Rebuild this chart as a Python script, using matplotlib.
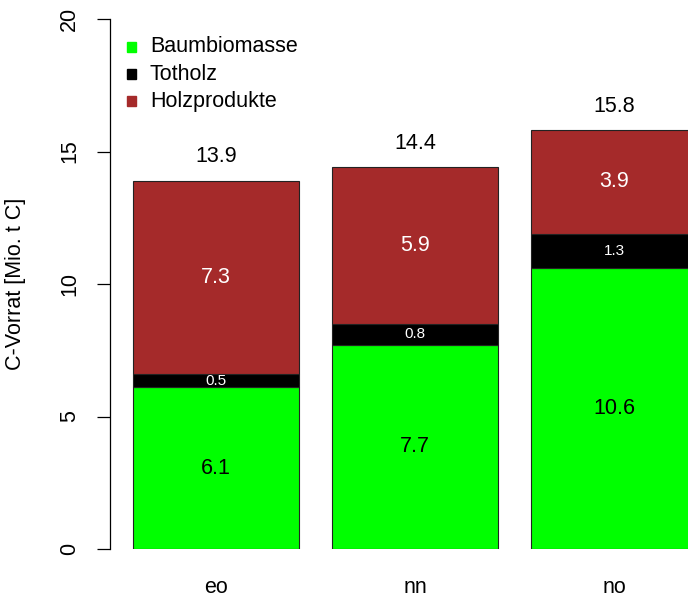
import matplotlib
matplotlib.use("Agg")
import matplotlib.pyplot as plt
import numpy as np

plt.rcParams['font.family'] = ['Liberation Sans', 'DejaVu Sans']

categories = ["eo", "nn", "no"]
baumbiomasse = [6.1, 7.7, 10.6]
totholz = [0.5, 0.8, 1.3]
holzprodukte = [7.3, 5.9, 3.9]
totals = [13.9, 14.4, 15.8]
series_names = ["Baumbiomasse", "Totholz", "Holzprodukte"]
series_colors = ["#00FF00", "#000000", "#A52A2A"]
label_colors = ["black", "white", "white"]
yticks = [0, 5, 10, 15, 20]

W, H = 688, 599
fig = plt.figure(figsize=(W / 100, H / 100), dpi=100)
ax = fig.add_axes([110 / W, 50 / H, (W - 110) / W, 530 / H])

x = 0.7 + 1.2 * np.arange(len(categories))
series = [baumbiomasse, totholz, holzprodukte]
bottom = np.zeros(len(categories))
for vals, col, lcol, name in zip(series, series_colors, label_colors, series_names):
    vals = np.array(vals)
    ax.bar(x, vals, width=1.0, bottom=bottom, color=col, edgecolor="#222222",
           linewidth=0.8, label=name)
    small = name == "Totholz"
    for xi, b, v in zip(x, bottom, vals):
        ax.text(xi, b + v / 2, f"{v:.1f}", ha="center", va="center",
                color=lcol, fontsize=11 if small else 15.5)
    bottom = bottom + vals

for xi, t in zip(x, totals):
    ax.text(xi, t + 0.9, f"{t:.1f}", ha="center", va="center", fontsize=15.5)

ax.set_xlim((110 - 99.8) / 166, (W - 99.8) / 166)
ax.set_ylim(0, 20)
for s in ["top", "right", "bottom"]:
    ax.spines[s].set_visible(False)
ax.spines["left"].set_bounds(0, 20)
ax.spines["left"].set_linewidth(0.9)
ax.set_yticks(yticks)
ax.set_yticklabels([str(v) for v in yticks], rotation=90, va="center")
ax.tick_params(axis="y", length=9.5, width=0.9, pad=12, labelsize=15.5)
ax.set_xticks(x)
ax.set_xticklabels(categories)
ax.tick_params(axis="x", length=0, pad=20, labelsize=15.5)

fig.text(16 / W, 1 - 284 / H, "C-Vorrat [Mio. t C]", rotation=90,
         ha="center", va="center", fontsize=15.5)

# legend
leg_y = [47, 74, 101]
for name, col, yy in zip(series_names, series_colors, leg_y):
    fig.patches.append(plt.Rectangle(((131 - 4.5) / W, 1 - (yy + 4.5) / H), 9 / W, 9 / H,
                                     transform=fig.transFigure, color=col, figure=fig))
    fig.text(150 / W, 1 - yy / H, name, ha="left", va="center", fontsize=15.5)

fig.savefig("out.png", dpi=100)
